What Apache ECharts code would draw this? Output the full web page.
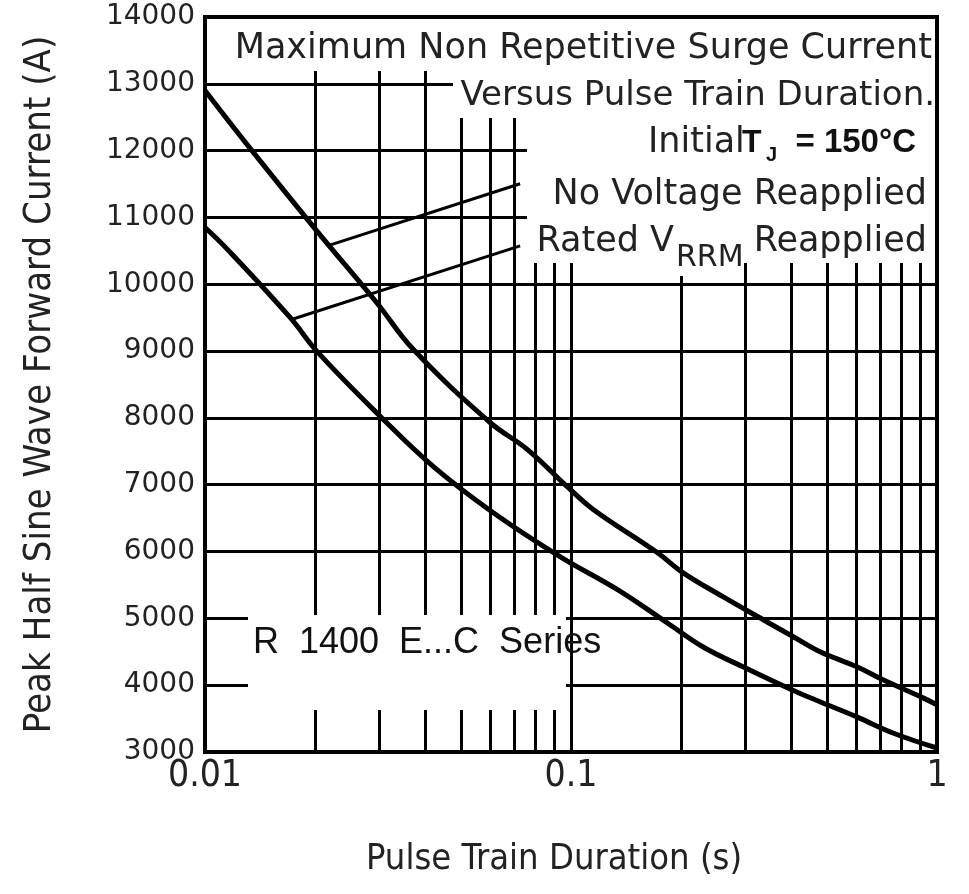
<!DOCTYPE html>
<html><head><meta charset="utf-8">
<script src="https://cdn.jsdelivr.net/npm/echarts@6/dist/echarts.min.js"></script>
<style>html,body{margin:0;padding:0;background:#fff}#c{width:969px;height:894px}</style>
</head><body><div id="c"></div>
<script>
// ---- data ----
const noVoltageDuration = [0.01, 0.0133, 0.0202, 0.0295, 0.037, 0.060, 0.0759, 0.0975, 0.115, 0.172, 0.202, 0.26, 0.335, 0.405, 0.479, 0.604, 0.712, 0.916, 1.0];
const noVoltageCurrent  = [12900, 12030, 10800, 9720, 9030, 7935, 7530, 6975, 6630, 5985, 5685, 5325, 4980, 4725, 4500, 4275, 4080, 3810, 3705];
const ratedDuration = [0.01, 0.01148, 0.0171, 0.0202, 0.0301, 0.042, 0.0612, 0.0933, 0.134, 0.183, 0.229, 0.295, 0.405, 0.47, 0.604, 0.758, 1.0];
const ratedCurrent  = [10850, 10530, 9500, 9000, 8025, 7275, 6585, 5925, 5430, 4935, 4575, 4275, 3920, 3770, 3525, 3285, 3060];
const noVoltageLeaderX = [0.0216, 0.0726];
const noVoltageLeaderY = [10575, 11505];
const ratedLeaderX = [0.0174, 0.0726];
const ratedLeaderY = [9480, 10575];
const xTicks = [0.01, 0.1, 1];
const xTickLabels = ['0.01', '0.1', '1'];
const xGridValues = [0.02, 0.03, 0.04, 0.05, 0.06, 0.07, 0.08, 0.09, 0.1, 0.2, 0.3, 0.4, 0.5, 0.6, 0.7, 0.8, 0.9];
const yTicks = [3000, 4000, 5000, 6000, 7000, 8000, 9000, 10000, 11000, 12000, 13000, 14000];
const yTickLabels = ['3000', '4000', '5000', '6000', '7000', '8000', '9000', '10000', '11000', '12000', '13000', '14000'];

const zip = (xs, ys) => xs.map((x, i) => [x, ys[i]]);
const FONT = "'DejaVu Sans', sans-serif";
const COND = "'DejaVu Sans Condensed', 'DejaVu Sans', sans-serif";
const ARIAL = "'Liberation Sans', Arial, sans-serif";

const chart = echarts.init(document.getElementById('c'), null, {renderer: 'canvas'});

function whiteBox(x, y, w, h) {
  return {type: 'rect', shape: {x: x, y: y, width: w, height: h}, style: {fill: '#fff'}, z: 3, silent: true};
}
function txt(text, x, y, align, size, family, weight, color) {
  return {type: 'text', z: 20, silent: true,
    style: {text: text, x: x, y: y, textAlign: align, textVerticalAlign: 'middle',
      fontSize: size, fontFamily: family, fontWeight: weight || 'normal', fill: color || '#222'}};
}

const option = {
  animation: false,
  backgroundColor: '#fff',
  grid: {left: 205, top: 17, width: 732, height: 735, containLabel: false},
  xAxis: {
    type: 'log', logBase: 10, min: 0.01, max: 1,
    axisLine: {show: false}, axisTick: {show: false},
    splitLine: {show: false}, minorTick: {show: false}, minorSplitLine: {show: false},
    axisLabel: {
      margin: 6, fontSize: 37, fontFamily: COND, color: '#222',
      formatter: function (v) {
        let best = 0;
        for (let i = 0; i < xTicks.length; i++) {
          if (Math.abs(Math.log10(v) - Math.log10(xTicks[i])) < Math.abs(Math.log10(v) - Math.log10(xTicks[best]))) best = i;
        }
        return xTickLabels[best];
      }
    },
    name: 'Pulse Train Duration (s)', nameLocation: 'middle', nameGap: 90,
    nameTextStyle: {fontSize: 36, fontFamily: COND, color: '#222', padding: [0, 34, 0, 0]}
  },
  yAxis: {
    type: 'value', min: 3000, max: 14000, interval: 1000,
    axisLine: {show: false}, axisTick: {show: false},
    splitLine: {show: true, lineStyle: {color: '#000', width: 3}},
    axisLabel: {
      margin: 10, fontSize: 28, fontFamily: FONT, color: '#222',
      formatter: function (v) {
        const i = yTicks.indexOf(v);
        return i >= 0 ? yTickLabels[i] : String(v);
      }
    },
    name: 'Peak Half Sine Wave Forward Current (A)', nameLocation: 'middle', nameGap: 146, nameRotate: 90,
    nameTextStyle: {fontSize: 38, fontFamily: COND, color: '#222'}
  },
  series: [
    {
      type: 'line', name: 'grid', data: [], z: 1, silent: true,
      markLine: {
        silent: true, z: 1, symbol: ['none', 'none'], animation: false,
        label: {show: false},
        lineStyle: {color: '#000', width: 3, type: 'solid'},
        emphasis: {disabled: true},
        data: xGridValues.map(v => ({xAxis: v}))
      }
    },
    {
      type: 'line', name: 'No Voltage Reapplied', data: zip(noVoltageDuration, noVoltageCurrent),
      showSymbol: false, smooth: 0.4, z: 10, silent: true,
      lineStyle: {color: '#000', width: 5}
    },
    {
      type: 'line', name: 'Rated VRRM Reapplied', data: zip(ratedDuration, ratedCurrent),
      showSymbol: false, smooth: 0.4, z: 10, silent: true,
      lineStyle: {color: '#000', width: 5}
    },
    {
      type: 'line', name: 'leader1', data: zip(noVoltageLeaderX, noVoltageLeaderY),
      showSymbol: false, z: 10, silent: true, lineStyle: {color: '#000', width: 3}
    },
    {
      type: 'line', name: 'leader2', data: zip(ratedLeaderX, ratedLeaderY),
      showSymbol: false, z: 10, silent: true, lineStyle: {color: '#000', width: 3}
    }
  ],
  graphic: [
    whiteBox(207, 19, 728, 52),
    whiteBox(453, 69, 482, 49),
    whiteBox(527, 116, 408, 147),
    whiteBox(676, 261, 66, 15),
    whiteBox(248, 615, 318, 95),
    {type: 'rect', z: 15, silent: true, shape: {x: 205, y: 17, width: 732, height: 735},
      style: {fill: 'none', stroke: '#000', lineWidth: 4}},
    txt('Maximum Non Repetitive Surge Current', 932, 49, 'right', 35, FONT),
    txt('Versus Pulse Train Duration.', 935, 96, 'right', 34, FONT),
    txt('Initial', 648, 143, 'left', 35, FONT),
    txt('T', 742, 143, 'left', 32, ARIAL, 'bold', '#111'),
    txt('J', 766, 155, 'left', 20, ARIAL, 'bold', '#111'),
    txt('= 150°C', 916, 143, 'right', 33, ARIAL, 'bold', '#111'),
    txt('No Voltage Reapplied', 927, 195, 'right', 35, FONT),
    txt('Rated V', 674, 242, 'right', 35, FONT),
    txt('RRM', 676, 258, 'left', 30, FONT),
    txt('Reapplied', 927, 242, 'right', 35, FONT),
    txt('R  1400  E...C  Series', 253, 643, 'left', 36, ARIAL, 'normal', '#111')
  ]
};
chart.setOption(option);
</script>
</body></html>
